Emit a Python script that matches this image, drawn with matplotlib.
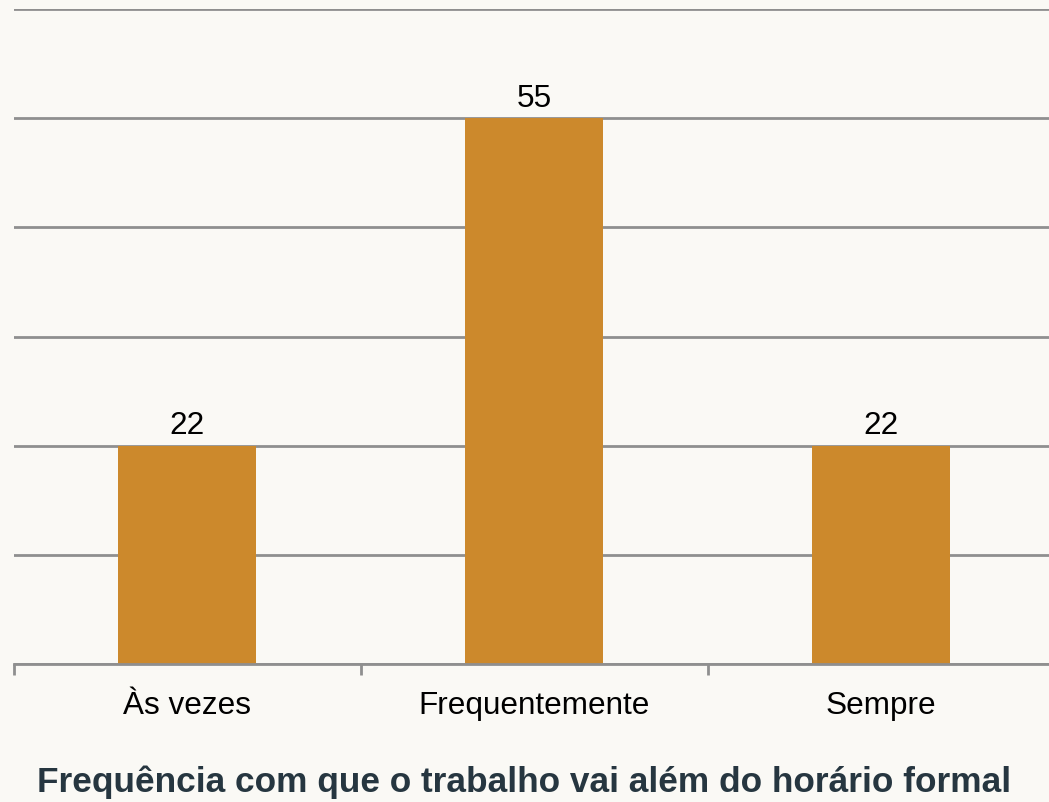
import matplotlib
matplotlib.use("Agg")
import matplotlib.pyplot as plt

categories = ["Às vezes", "Frequentemente", "Sempre"]
values = [22, 55, 22]
title = "Frequência com que o trabalho vai além do horário formal"

plt.rcParams['font.family'] = ['Liberation Sans', 'DejaVu Sans']

bg = "#faf9f5"
bar_color = "#cc892c"
grid_color = "#8f8f8f"

W, H = 1049, 803
fig = plt.figure(figsize=(W / 100, H / 100), dpi=100, facecolor=bg)
left = 13.5 / W
right_px = 13.5 + 3 * 347
bottom = (H - 665) / H
top = (H - 10) / H
ax = fig.add_axes([left, bottom, (right_px - 13.5) / W, top - bottom])
ax.set_facecolor(bg)

x = list(range(len(categories)))
ax.bar(x, values, width=0.4, color=bar_color, zorder=3)
for xi, v in zip(x, values):
    ax.annotate(str(v), (xi, v), xytext=(0, 4), textcoords="offset points",
                ha="center", va="bottom", fontsize=22.7, color="#000000")

ax.set_xlim(-0.5, 2.5)
ax.set_ylim(0, 66)
ax.set_yticks(range(0, 67, 11))
ax.yaxis.grid(True, color=grid_color, linewidth=2, zorder=1)
ax.tick_params(axis="y", left=False, labelleft=False)

ax.set_xticks([-0.5, 0.5, 1.5, 2.5], minor=False)
ax.set_xticklabels([])
ax.set_xticks(x, minor=True)
ax.set_xticklabels(categories, minor=True, fontsize=22.7, color="#000000")
ax.tick_params(axis="x", which="major", length=8, width=2, color=grid_color)
ax.tick_params(axis="x", which="minor", length=0, pad=19)

for s in ["top", "right", "left"]:
    ax.spines[s].set_visible(False)
ax.spines["bottom"].set_color(grid_color)
ax.spines["bottom"].set_linewidth(2)
ax.spines["bottom"].set_zorder(4)

fig.text(0.5, (H - 782) / H, title, ha="center", va="center",
         fontsize=25.4, fontweight="bold", color="#263640")

fig.savefig("out.png", dpi=100, facecolor=bg)
